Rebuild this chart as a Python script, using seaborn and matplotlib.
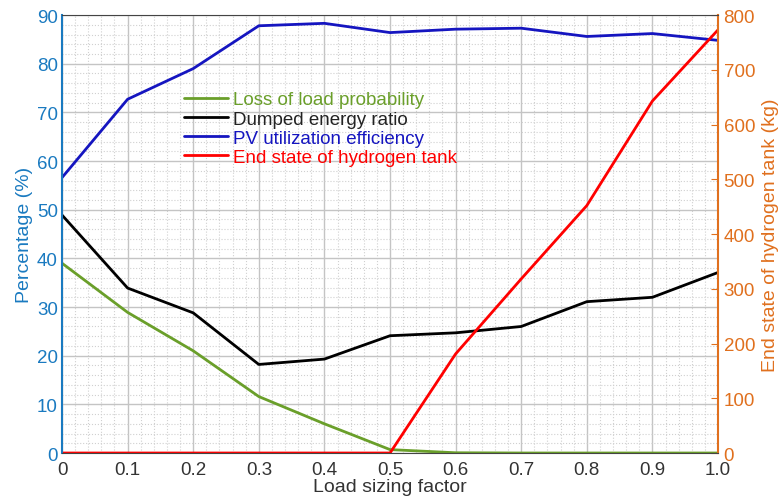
import matplotlib
matplotlib.use("Agg")
import matplotlib.pyplot as plt
from matplotlib.ticker import MultipleLocator, AutoMinorLocator
import seaborn as sns
import pandas as pd

load_factor = [0, 0.1, 0.2, 0.3, 0.4, 0.5, 0.6, 0.7, 0.8, 0.9, 1.0]
lolp = [39.0, 28.9, 21.0, 11.6, 6.0, 0.7, 0.05, 0, 0, 0, 0]
dumped = [48.9, 33.9, 28.8, 18.2, 19.3, 24.1, 24.7, 26.0, 31.1, 32.0, 37.1]
pv_eff = [56.6, 72.7, 79.0, 87.8, 88.3, 86.4, 87.1, 87.3, 85.6, 86.2, 84.8]
h2_tank = [0, 0, 0, 0, 0, 0, 181, 318, 452, 643, 773]
x_ticklabels = ["0", "0.1", "0.2", "0.3", "0.4", "0.5", "0.6", "0.7", "0.8", "0.9", "1.0"]

sns.set_style("white")
plt.rcParams['font.family'] = ['Liberation Sans', 'DejaVu Sans']

df = pd.DataFrame({"x": load_factor, "lolp": lolp, "dumped": dumped,
                   "pv": pv_eff, "h2": h2_tank})

fig = plt.figure(figsize=(7.83, 5.02), dpi=100)
ax = fig.add_axes([0.0792, 0.0956, 0.8378, 0.8724])
ax2 = ax.twinx()

c_green = "#6a9f2a"
c_black = "#000000"
c_blue = "#1515c0"
c_red = "#ff0000"
c_left = "#1a7ac0"
c_right = "#e0701e"

lw = 2.0
sns.lineplot(data=df, x="x", y="lolp", ax=ax, color=c_green, lw=lw, label="Loss of load probability", legend=False)
sns.lineplot(data=df, x="x", y="dumped", ax=ax, color=c_black, lw=lw, label="Dumped energy ratio", legend=False)
sns.lineplot(data=df, x="x", y="pv", ax=ax, color=c_blue, lw=lw, label="PV utilization efficiency", legend=False)
sns.lineplot(data=df, x="x", y="h2", ax=ax2, color=c_red, lw=lw, label="End state of hydrogen tank", legend=False)

ax.set_xlim(0, 1.0)
ax.set_ylim(0, 90)
ax2.set_ylim(0, 800)
ax.set_xticks(load_factor)
ax.set_xticklabels(x_ticklabels)
ax.yaxis.set_major_locator(MultipleLocator(10))
ax2.yaxis.set_major_locator(MultipleLocator(100))
ax.xaxis.set_minor_locator(AutoMinorLocator(5))
ax.yaxis.set_minor_locator(AutoMinorLocator(5))

ax.grid(True, which="major", color="#c4c4c4", lw=1.0, ls="-")
ax.grid(True, which="minor", color="#d0d0d0", lw=0.8, ls=":")
ax.set_axisbelow(True)

fs = 13.5
ax.set_xlabel("Load sizing factor", fontsize=14, color="#333333", labelpad=0)
ax.set_ylabel("Percentage (%)", fontsize=14, color=c_left, labelpad=3)
ax2.set_ylabel("End state of hydrogen tank (kg)", fontsize=14, color=c_right, labelpad=5)

ax.tick_params(axis="x", which="both", direction="in", labelsize=fs, labelcolor="#333333", length=0, pad=6)
ax.tick_params(axis="y", which="both", direction="in", labelsize=fs, labelcolor=c_left, color=c_left, length=0, pad=3)
ax2.tick_params(axis="y", which="major", direction="in", labelsize=fs, labelcolor=c_right, color=c_right, length=5, pad=4)

for sp in ["top", "bottom"]:
    ax2.spines[sp].set_color("#444444")
ax2.spines["left"].set_color(c_left)
ax2.spines["left"].set_linewidth(1.5)
ax2.spines["right"].set_color(c_right)
ax2.spines["right"].set_linewidth(1.5)
for sp in ax.spines.values():
    sp.set_visible(False)

h1, l1 = ax.get_legend_handles_labels()
h2, l2 = ax2.get_legend_handles_labels()
leg = ax.legend(h1 + h2, l1 + l2, loc="upper left", bbox_to_anchor=(0.186, 0.826),
                frameon=False, fontsize=fs, handlelength=2.35, handletextpad=0.27,
                labelspacing=0.11, borderaxespad=0, borderpad=0)
for txt, c in zip(leg.get_texts(), [c_green, "#222222", c_blue, c_red]):
    txt.set_color(c)

fig.savefig("out.png", dpi=100)
